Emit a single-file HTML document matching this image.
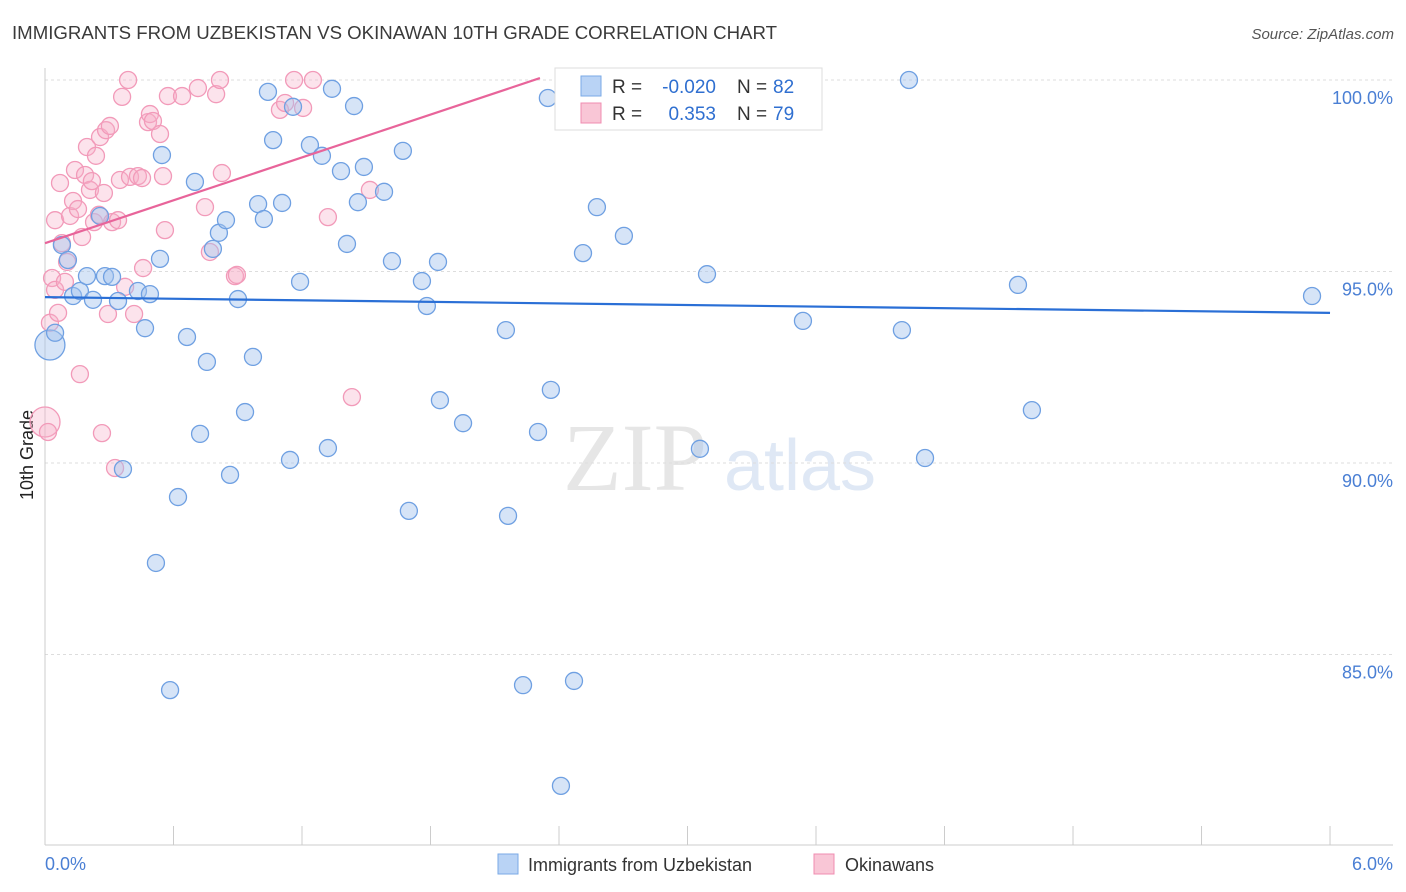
<!DOCTYPE html>
<html><head><meta charset="utf-8"><style>
body{margin:0;background:#fff;font-family:"Liberation Sans",sans-serif;}
#wrap{position:relative;width:1406px;height:892px;overflow:hidden;}
</style></head><body>
<div id="wrap">
<svg id="chart" width="1406" height="892">
<text x="12" y="39" font-size="18" fill="#3a3a3a" textLength="765" lengthAdjust="spacingAndGlyphs">IMMIGRANTS FROM UZBEKISTAN VS OKINAWAN 10TH GRADE CORRELATION CHART</text>
<text x="1394" y="39" font-size="15" fill="#555" font-style="italic" text-anchor="end">Source: ZipAtlas.com</text>
<text x="33" y="455" font-size="18" fill="#222" transform="rotate(-90 33 455)" text-anchor="middle">10th Grade</text>
<g><text x="635" y="490" font-size="96" fill="#e6e6e6" font-family="Liberation Serif" text-anchor="middle">ZIP</text><text x="800" y="490" font-size="72" fill="#dfe8f5" text-anchor="middle">atlas</text></g>
<g id="grid"></g><g id="axes"></g><g id="pts"></g><g id="lines"></g>
<g>
<rect x="555" y="68" width="267" height="62" fill="#fff" stroke="#ddd"/>
<rect x="581" y="76" width="20" height="20" fill="#b9d3f5" stroke="#7aaae6"/>
<rect x="581" y="103" width="20" height="20" fill="#f9c6d6" stroke="#f08cb0"/>
<text x="612" y="93" font-size="19" fill="#333">R =</text>
<text x="716" y="93" font-size="19" fill="#2f6fd0" text-anchor="end">-0.020</text>
<text x="737" y="93" font-size="19" fill="#333">N =</text>
<text x="773" y="93" font-size="19" fill="#2f6fd0">82</text>
<text x="612" y="120" font-size="19" fill="#333">R =</text>
<text x="716" y="120" font-size="19" fill="#2f6fd0" text-anchor="end">0.353</text>
<text x="737" y="120" font-size="19" fill="#333">N =</text>
<text x="773" y="120" font-size="19" fill="#2f6fd0">79</text>
</g>
<g>
<rect x="498" y="854" width="20" height="20" fill="#b9d3f5" stroke="#7aaae6"/>
<text x="528" y="871" font-size="18" fill="#333">Immigrants from Uzbekistan</text>
<rect x="814" y="854" width="20" height="20" fill="#f9c6d6" stroke="#f08cb0"/>
<text x="845" y="871" font-size="18" fill="#333">Okinawans</text>
</g>
</svg></div>
<script>
const blueX=[.023,.047,.079,.107,.131,.163,.196,.224,.257,.280,.313,.341,.364,.434,.467,.490,.518,.537,.546,.584,.621,.663,.700,.724,.756,.784,.812,.845,.864,.901,.934,.971,.995,1.022,1.041,1.065,1.107,1.144,1.158,1.191,1.237,1.293,1.321,1.340,1.382,1.410,1.443,1.461,1.489,1.583,1.620,1.671,1.699,1.760,1.783,1.835,1.844,1.952,2.152,2.162,2.232,2.302,2.348,2.362,2.409,2.470,2.512,2.577,2.703,2.792,3.058,3.091,3.123,3.539,4.001,4.034,4.109,4.543,4.608,5.916];
const blueY=[93.08,93.40,95.69,95.30,94.36,94.49,94.88,94.26,96.45,94.88,94.86,94.23,89.84,94.49,93.52,94.41,87.39,95.33,98.04,84.07,89.11,93.29,97.34,90.76,92.64,95.59,96.01,96.34,89.69,94.28,91.33,92.77,96.76,96.37,99.69,98.43,96.79,90.08,99.30,94.73,98.30,98.02,90.39,99.77,97.62,95.72,99.32,96.81,97.73,97.08,95.27,98.15,88.75,94.75,94.10,95.25,91.64,91.04,93.47,88.62,84.20,90.81,99.53,91.91,81.57,84.31,95.48,96.68,95.93,99.43,90.37,94.93,100.0,93.71,93.47,100.0,90.13,94.65,91.38,94.36];
const blueBig=[0];
const pinkX=[0,.014,.023,.033,.047,.061,.070,.047,.079,.093,.103,.117,.131,.140,.154,.163,.173,.187,.196,.210,.219,.229,.238,.252,.257,.266,.275,.285,.294,.303,.313,.327,.341,.350,.360,.374,.388,.397,.416,.434,.453,.458,.481,.490,.504,.537,.551,.560,.574,.640,.714,.747,.770,.799,.817,.826,.887,.896,1.097,1.121,1.163,1.205,1.251,1.321,1.433,1.517];
const pinkY=[91.07,90.81,93.66,94.83,94.52,93.92,97.31,96.34,95.74,94.73,95.25,96.45,96.84,97.65,96.63,92.32,95.90,97.52,98.25,97.13,97.36,96.29,98.02,96.48,98.51,90.78,97.05,98.69,93.89,98.80,96.29,89.87,96.34,97.39,99.56,94.60,100.0,97.47,93.89,97.49,97.44,95.09,98.90,99.11,98.93,98.59,97.49,96.08,99.58,99.58,99.79,96.68,95.51,99.63,100.0,97.57,94.88,94.91,99.22,99.40,100.0,99.27,100.0,96.42,91.72,97.13];
const pinkBig=[0];
const blueTrend=[[0,94.33],[6,93.92]];
const pinkTrend=[[0,95.74],[2.311,100.05]];
const yTicks=[100,95,90,85];
const yTickLabels=["100.0%","95.0%","90.0%","85.0%"];
const xTickLabels=["0.0%","6.0%"];
const NS="http://www.w3.org/2000/svg";
const sx=v=>45+v*214.17, sy=v=>80+(100-v)*38.3;
function mk(t,a,p){const e=document.createElementNS(NS,t);for(const k in a)e.setAttribute(k,a[k]);p.appendChild(e);return e;}
const grid=document.getElementById('grid'),axes=document.getElementById('axes'),pts=document.getElementById('pts'),lines=document.getElementById('lines');
yTicks.forEach((v,i)=>{
 const l=mk('line',{x1:45,x2:1393,y1:sy(v),y2:sy(v),stroke:'#ddd','stroke-dasharray':'3,3'},grid);
 
 
 const t=mk('text',{x:1393,y:sy(v)+24,'font-size':18,fill:'#4a7fd4','text-anchor':'end'},axes);t.textContent=yTickLabels[i];
 
 
});
const xa=mk('line',{x1:45,x2:1393,y1:845,y2:845,stroke:'#ccc'},axes);


const ya=mk('line',{x1:45,x2:45,y1:68,y2:845,stroke:'#ccc'},axes);


for(let i=0;i<=10;i++){const tk=mk('line',{x1:sx(i*0.6),x2:sx(i*0.6),y1:826,y2:845,stroke:'#ccc'},axes);
 
 }
[[0,45,'start'],[1,1393,'end']].forEach(([i,x,a])=>{const t=mk('text',{x:x,y:870,'font-size':18,fill:'#4a7fd4','text-anchor':a},axes);t.textContent=xTickLabels[i];
 
 });
function draw(X,Y,big,fill,stroke,name){X.forEach((x,i)=>{const c=mk('circle',{cx:sx(x),cy:sy(Y[i]),r:big.includes(i)?15:8.5,fill:fill,stroke:stroke,'stroke-width':1.3},pts);
 
 });}
draw(pinkX,pinkY,pinkBig,'rgba(246,176,200,0.35)','#f29ab9','okinawan-point');
draw(blueX,blueY,blueBig,'rgba(165,196,238,0.45)','#6fa0e2','uzbekistan-point');
const bl=mk('line',{x1:sx(blueTrend[0][0]),y1:sy(blueTrend[0][1]),x2:sx(blueTrend[1][0]),y2:sy(blueTrend[1][1]),stroke:'#2a6fd6','stroke-width':2.2},lines);


const pl=mk('line',{x1:sx(pinkTrend[0][0]),y1:sy(pinkTrend[0][1]),x2:sx(pinkTrend[1][0]),y2:sy(pinkTrend[1][1]),stroke:'#e8649a','stroke-width':2.2},lines);


</script>
</body></html>
